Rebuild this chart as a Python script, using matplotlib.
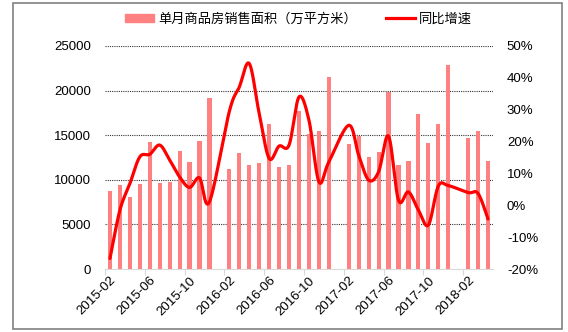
import numpy as np
import pandas as pd
import matplotlib
matplotlib.use('Agg')
import matplotlib.pyplot as plt
from matplotlib.patches import Rectangle
from matplotlib.lines import Line2D

plt.rcParams['font.family'] = ['Liberation Sans', 'DejaVu Sans']

# monthly categories 2015-02 .. 2018-04
months = pd.date_range('2015-02-01', '2018-04-01', freq='MS').strftime('%Y-%m').tolist()

# monthly sales area (10k m2), January has no separate data
area = [8730, 9400, 8060, 9550, 14250, 9630, 9740, 13210, 11980, 14330, 19220,
        np.nan, 11230, 12980, 11680, 11900, 16300, 11450, 11680, 17720, 15150, 15450, 21490,
        np.nan, 14030, 14920, 12570, 13130, 19850, 11640, 12160, 17420, 14180, 16270, 22830,
        np.nan, 14660, 15450, 12090]

# year-on-year growth (%)
growth = [-16.7, -1.5, 6.8, 15.2, 16.0, 18.9, 14.2, 8.9, 5.6, 8.6, 1.1,
          np.nan, 29.5, 37.1, 44.5, 28.8, 14.7, 18.6, 18.9, 34.0, 26.7, 7.4, 13.6,
          np.nan, 25.1, 15.7, 7.9, 10.5, 21.7, 1.6, 4.2, -1.5, -6.2, 6.0, 6.2,
          np.nan, 4.0, 3.7, -4.3]

label_step = 4
bar_color = '#FF8080'
line_color = '#FF0000'


def smooth_curve(xs, ys, n=24):
    # catmull-rom style smoothing similar to spreadsheet "smoothed line"
    pts = np.column_stack([xs, ys])
    out = [pts[0]]
    for i in range(len(pts) - 1):
        p0 = pts[max(i - 1, 0)]
        p1 = pts[i]
        p2 = pts[i + 1]
        p3 = pts[min(i + 2, len(pts) - 1)]
        b1 = p1 + (p2 - p0) / 6.0
        b2 = p2 - (p3 - p1) / 6.0
        t = np.linspace(0, 1, n)[1:, None]
        seg = ((1 - t) ** 3) * p1 + 3 * ((1 - t) ** 2) * t * b1 + 3 * (1 - t) * t ** 2 * b2 + t ** 3 * p2
        out.extend(seg)
    out = np.array(out)
    return out[:, 0], out[:, 1]


fig = plt.figure(figsize=(5.68, 3.32), dpi=100)
ax = fig.add_axes([105 / 568, 1 - 269 / 332, 388 / 568, 223 / 332])
ax2 = ax.twinx()

x = np.arange(len(months))
ax.bar(x, area, width=0.42, color=bar_color, zorder=2)

g = np.array(growth, dtype=float)
ok = ~np.isnan(g)
sx, sy = smooth_curve(x[ok].astype(float), g[ok])
ax2.plot(sx, sy, color=line_color, linewidth=2.3, solid_capstyle='round', zorder=3)

ax.set_xlim(-0.5, len(months) - 0.5)
ax.set_ylim(0, 25000)
ax.set_yticks(np.arange(0, 25001, 5000))
ax2.set_ylim(-20, 50)
ax2.set_yticks(np.arange(-20, 51, 10))
ax2.set_yticklabels([f'{v}%' for v in range(-20, 51, 10)])

for v in range(5000, 25001, 5000):
    ax.axhline(v, color='#333333', linewidth=0.8, linestyle=(0, (1, 1)), zorder=1)

# tick marks between categories, labels on categories
ax.set_xticks(np.arange(-0.5, len(months), label_step))
ax.set_xticklabels([])
ax.tick_params(axis='x', which='major', length=4, color='#D9D9D9', width=0.8)
ax.set_xticks(x[::label_step], minor=True)
ax.set_xticklabels(months[::label_step], minor=True, rotation=45, ha='right',
                   rotation_mode='anchor', fontsize=9.5)
ax.tick_params(axis='x', which='minor', length=0, pad=4)

ax.tick_params(axis='y', length=0, labelsize=9.5, pad=10)
ax2.tick_params(axis='y', length=0, labelsize=9.5, pad=10)

for a in (ax, ax2):
    for s in ('top', 'left', 'right'):
        a.spines[s].set_visible(False)
    a.spines['bottom'].set_visible(False)
ax.spines['bottom'].set_visible(True)
ax.spines['bottom'].set_color('#D9D9D9')
ax.spines['bottom'].set_linewidth(0.8)

handles = [Rectangle((0, 0), 1, 1, color=bar_color),
           Line2D([], [], color=line_color, linewidth=2.3)]
fig.legend(handles, ['单月商品房销售面积（万平方米）', '同比增速'], loc='center',
           bbox_to_anchor=(0.525, 0.943), ncol=2, frameon=False,
           prop={'family': ['Noto Sans CJK SC', 'DejaVu Sans'], 'size': 9.5},
           handlelength=2.2, handleheight=0.5, handletextpad=0.3, columnspacing=2.2)

# outer frame
fig.patches.append(Rectangle((13 / 568, 1 - 329 / 332), 549 / 568, 326 / 332,
                             transform=fig.transFigure, fill=False,
                             edgecolor='#808080', linewidth=1.2))

fig.savefig('out.png', dpi=100)
